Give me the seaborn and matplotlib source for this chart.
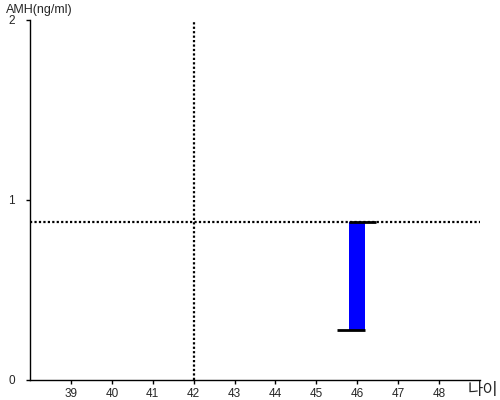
import matplotlib
matplotlib.use("Agg")
import matplotlib.pyplot as plt
import seaborn as sns
import pandas as pd

# data
age = [46]
amh_low = [0.28]
amh_high = [0.88]
ref_age = 42
ref_amh = 0.88
x_ticks = [39, 40, 41, 42, 43, 44, 45, 46, 47, 48]
y_ticks = [0, 1, 2]

sns.set_style("white")
plt.rcParams['font.family'] = ['Liberation Sans', 'Noto Sans CJK KR', 'DejaVu Sans']

fig = plt.figure(figsize=(5, 4), dpi=100)
ax = fig.add_axes([0.06, 0.05, 0.90, 0.90])

df = pd.DataFrame({"age": age, "low": amh_low, "high": amh_high})
df["span"] = df["high"] - df["low"]

sns.barplot(data=df, x="age", y="span", native_scale=True, width=0.4,
            bottom=df["low"].values, color="#0000ff", saturation=1,
            edgecolor="none", linewidth=0, ax=ax)

# open / close ticks
for a, lo, hi in zip(age, amh_low, amh_high):
    ax.hlines(lo, a - 0.5, a + 0.2, color="black", lw=2)
    ax.hlines(hi, a - 0.2, a + 0.45, color="black", lw=2)

# reference cross lines
ax.axvline(ref_age, color="black", lw=1.6, ls=(0, (1, 1)))
ax.axhline(ref_amh, color="black", lw=1.6, ls=(0, (1, 1)))

ax.set_xlim(38, 49)
ax.set_ylim(0, 2)
ax.set_xticks(x_ticks)
ax.set_yticks(y_ticks)
ax.set_xticklabels([str(t) for t in x_ticks])
ax.set_yticklabels([str(t) for t in y_ticks])
ax.tick_params(axis="both", length=3, width=1, color="black", labelsize=8.5, direction="out",
               bottom=True, left=True)
ax.tick_params(axis="x", pad=3)
ax.tick_params(axis="y", pad=8)
ax.set_xlabel("")
ax.set_ylabel("")

for side in ["top", "right"]:
    ax.spines[side].set_visible(False)
for side in ["left", "bottom"]:
    ax.spines[side].set_color("black")
    ax.spines[side].set_linewidth(1)

fig.text(0.012, 0.975, "AMH(ng/ml)", fontsize=9, ha="left", va="center")
fig.text(0.996, 0.024, "나이", fontsize=12, ha="right", va="center")

fig.savefig("out.png", dpi=100)
